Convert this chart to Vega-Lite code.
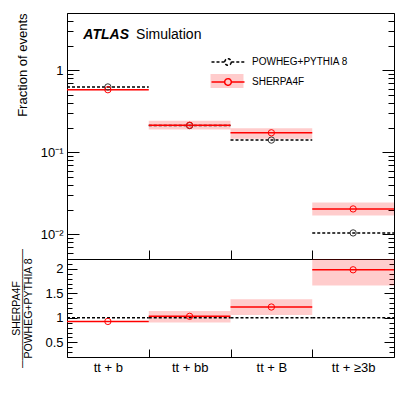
{
  "$schema": "https://vega.github.io/schema/vega-lite/v6.json",
  "padding": {"left": 11, "top": 12, "right": 5, "bottom": 5},
  "spacing": 0,
  "bounds": "flush",
  "config": {
    "font": "Liberation Sans",
    "concat": {"spacing": 0},
    "view": {"stroke": "black", "strokeWidth": 1},
    "axis": {"domain": false, "grid": false, "labelFont": "Liberation Sans", "labelFontSize": 13, "labelColor": "black", "titleFont": "Liberation Sans", "titleFontSize": 13, "titleFontWeight": "normal", "titleColor": "black", "tickColor": "black", "tickWidth": 1, "labelOverlap": false, "labelFlush": false}
  },
  "data": {"values": [
    {"cat": "tt + b", "lo": 0, "hi": 1, "mid": 0.5, "powheg": 0.627, "sherpa": 0.58, "sLo": 0.57, "sHi": 0.59, "pr": 1, "ratio": 0.926, "rLo": 0.915, "rHi": 0.937},
    {"cat": "tt + bb", "lo": 1, "hi": 2, "mid": 1.5, "powheg": 0.212, "sherpa": 0.214, "sLo": 0.19, "sHi": 0.242, "pr": 1, "ratio": 1.03, "rLo": 0.905, "rHi": 1.14},
    {"cat": "tt + B", "lo": 2, "hi": 3, "mid": 2.5, "powheg": 0.141, "sherpa": 0.173, "sLo": 0.146, "sHi": 0.197, "pr": 1, "ratio": 1.22, "rLo": 1.055, "rHi": 1.38},
    {"cat": "tt + ≥3b", "lo": 3, "hi": 4, "mid": 3.5, "powheg": 0.0104, "sherpa": 0.0204, "sLo": 0.017, "sHi": 0.0244, "pr": 1, "ratio": 1.98, "rLo": 1.66, "rHi": 2.2}
  ]},
  "vconcat": [
    {
      "width": 327,
      "height": 246,
      "resolve": {"axis": {"x": "independent", "y": "independent"}},
      "layer": [
        {
          "mark": {"type": "rect"},
          "encoding": {
            "x": {"field": "lo", "type": "quantitative", "scale": {"domain": [0, 4], "nice": false, "zero": false},
                  "axis": {"orient": "bottom", "values": [1, 2, 3], "labels": false, "tickSize": 9, "offset": -9, "title": null}},
            "x2": {"field": "hi"},
            "y": {"field": "sLo", "type": "quantitative", "scale": {"type": "log", "domain": [0.005, 5], "nice": false},
                  "axis": {"orient": "left", "title": "Fraction of events", "titleAnchor": "end", "titlePadding": 11,
                           "values": [0.01, 0.1, 1],
                           "labelExpr": "datum.value == 1 ? '1' : datum.value == 0.1 ? '10⁻¹' : '10⁻²'",
                           "tickSize": 12, "offset": -12, "labelPadding": 4}},
            "y2": {"field": "sHi"},
            "fill": {"datum": "SHERPA4F", "type": "nominal",
                     "scale": {"domain": ["POWHEG+PYTHIA 8 ", "SHERPA4F"], "range": ["rgba(0,0,0,0)", "rgba(255,0,0,0.2)"]},
                     "legend": {"orient": "none", "legendX": 155, "legendY": 43, "title": null, "direction": "vertical",
                                "symbolType": "M-3.3,-1.4H3.3V1.4H-3.3Z", "symbolSize": 100, "symbolStrokeWidth": 0,
                                "labelFontSize": 10, "labelOffset": 18, "labelExpr": "''", "rowPadding": 6}}
          }
        },
        {
          "mark": {"type": "rule", "strokeWidth": 1.5, "strokeDash": [3, 2]},
          "encoding": {
            "x": {"field": "lo", "type": "quantitative", "axis": null},
            "x2": {"field": "hi"},
            "y": {"field": "powheg", "type": "quantitative",
                  "axis": {"orient": "left", "title": null, "labels": false,
                           "values": [0.005, 0.006, 0.007, 0.008, 0.009, 0.02, 0.03, 0.04, 0.05, 0.06, 0.07, 0.08, 0.09, 0.2, 0.3, 0.4, 0.5, 0.6, 0.7, 0.8, 0.9, 2, 3, 4, 5],
                           "tickSize": 6, "offset": -6}},
            "stroke": {"datum": "POWHEG+PYTHIA 8", "type": "nominal",
                       "scale": {"domain": ["POWHEG+PYTHIA 8", "SHERPA4F"], "range": ["#000000", "#ff0000"]},
                       "legend": {"orient": "none", "legendX": 155, "legendY": 43, "title": null, "direction": "vertical",
                                  "symbolType": "M-3.3,0H-0.66M0.66,0H3.3M0.66,0A0.66,0.66,0,1,1,-0.66,0A0.66,0.66,0,1,1,0.66,0",
                                  "symbolSize": 100, "symbolStrokeWidth": 1.5, "symbolFillColor": "transparent",
                                  "labelFontSize": 10, "labelOffset": 18, "labelColor": "black", "rowPadding": 6,
                                  "encode": {"symbols": {"update": {"strokeDash": {"signal": "datum.value === 'POWHEG+PYTHIA 8' ? [3, 2] : [1, 0]"}}}}}}
          }
        },
        {
          "mark": {"type": "rule", "strokeWidth": 1.5},
          "encoding": {
            "x": {"field": "lo", "type": "quantitative", "axis": null},
            "x2": {"field": "hi"},
            "y": {"field": "sherpa", "type": "quantitative",
                  "axis": {"orient": "right", "title": null, "labels": false, "values": [0.01, 0.1, 1], "tickSize": 12, "offset": -12}},
            "stroke": {"datum": "SHERPA4F", "type": "nominal"}
          }
        },
        {
          "mark": {"type": "point", "shape": "circle", "filled": false, "size": 40, "stroke": "#333333", "strokeWidth": 1, "opacity": 1},
          "encoding": {
            "x": {"field": "mid", "type": "quantitative", "axis": null},
            "y": {"field": "powheg", "type": "quantitative",
                  "axis": {"orient": "right", "title": null, "labels": false,
                           "values": [0.005, 0.006, 0.007, 0.008, 0.009, 0.02, 0.03, 0.04, 0.05, 0.06, 0.07, 0.08, 0.09, 0.2, 0.3, 0.4, 0.5, 0.6, 0.7, 0.8, 0.9, 2, 3, 4, 5],
                           "tickSize": 6, "offset": -6}}
          }
        },
        {
          "mark": {"type": "point", "shape": "circle", "filled": false, "size": 40, "stroke": "#ff0000", "strokeWidth": 1, "opacity": 1},
          "encoding": {
            "x": {"field": "mid", "type": "quantitative", "axis": null},
            "y": {"field": "sherpa", "type": "quantitative", "axis": null}
          }
        },
        {
          "data": {"values": [{"label": "ATLAS"}]},
          "mark": {"type": "text", "align": "left", "baseline": "alphabetic", "fontSize": 14, "fontWeight": "bold", "fontStyle": "italic", "color": "black"},
          "encoding": {
            "x": {"datum": 0.2, "type": "quantitative", "axis": null},
            "y": {"datum": 2.4, "type": "quantitative", "axis": null},
            "text": {"field": "label"}
          }
        },
        {
          "data": {"values": [{"label": "Simulation"}]},
          "mark": {"type": "text", "align": "left", "baseline": "alphabetic", "fontSize": 14, "color": "black"},
          "encoding": {
            "x": {"datum": 0.845, "type": "quantitative", "axis": null},
            "y": {"datum": 2.4, "type": "quantitative", "axis": null},
            "text": {"field": "label"}
          }
        }
      ]
    },
    {
      "width": 327,
      "height": 98,
      "resolve": {"axis": {"x": "independent", "y": "independent"}},
      "layer": [
        {
          "mark": {"type": "rect", "fill": "#ff0000", "fillOpacity": 0.2},
          "encoding": {
            "x": {"field": "lo", "type": "quantitative", "scale": {"domain": [0, 4], "nice": false, "zero": false},
                  "axis": {"orient": "bottom", "title": null, "values": [0.5, 1.5, 2.5, 3.5], "ticks": false,
                           "labelExpr": "datum.value == 0.5 ? 'tt + b' : datum.value == 1.5 ? 'tt + bb' : datum.value == 2.5 ? 'tt + B' : 'tt + ≥3b'",
                           "labelPadding": 4}},
            "x2": {"field": "hi"},
            "y": {"field": "rLo", "type": "quantitative", "scale": {"domain": [0.2, 2.2], "nice": false, "zero": false},
                  "axis": {"orient": "left", "title": ["SHERPA4F", "────────────────", "POWHEG+PYTHIA 8"], "titleFontSize": 10.5, "titleLineHeight": 6, "titlePadding": 11,
                           "values": [0.5, 1, 1.5, 2],
                           "labelExpr": "datum.value == 0.5 ? '0.5' : datum.value == 1 ? '1' : datum.value == 1.5 ? '1.5' : '2'",
                           "tickSize": 10, "offset": -10, "labelPadding": 4}},
            "y2": {"field": "rHi"}
          }
        },
        {
          "mark": {"type": "rule", "strokeWidth": 1.5, "strokeDash": [3, 2], "color": "black"},
          "encoding": {
            "x": {"field": "lo", "type": "quantitative",
                  "axis": {"orient": "bottom", "title": null, "values": [1, 2, 3], "labels": false, "tickSize": 8, "offset": -8}},
            "x2": {"field": "hi"},
            "y": {"field": "pr", "type": "quantitative",
                  "axis": {"orient": "left", "title": null, "labels": false,
                           "values": [0.2, 0.3, 0.4, 0.6, 0.7, 0.8, 0.9, 1.1, 1.2, 1.3, 1.4, 1.6, 1.7, 1.8, 1.9, 2.1, 2.2],
                           "tickSize": 5, "offset": -5}}
          }
        },
        {
          "mark": {"type": "rule", "strokeWidth": 1.5, "color": "#ff0000"},
          "encoding": {
            "x": {"field": "lo", "type": "quantitative", "axis": null},
            "x2": {"field": "hi"},
            "y": {"field": "ratio", "type": "quantitative",
                  "axis": {"orient": "right", "title": null, "labels": false, "values": [0.5, 1, 1.5, 2], "tickSize": 10, "offset": -10}}
          }
        },
        {
          "mark": {"type": "point", "shape": "circle", "filled": false, "size": 40, "stroke": "#ff0000", "strokeWidth": 1, "opacity": 1},
          "encoding": {
            "x": {"field": "mid", "type": "quantitative", "axis": null},
            "y": {"field": "ratio", "type": "quantitative",
                  "axis": {"orient": "right", "title": null, "labels": false,
                           "values": [0.2, 0.3, 0.4, 0.6, 0.7, 0.8, 0.9, 1.1, 1.2, 1.3, 1.4, 1.6, 1.7, 1.8, 1.9, 2.1, 2.2],
                           "tickSize": 5, "offset": -5}}
          }
        }
      ]
    }
  ]
}
